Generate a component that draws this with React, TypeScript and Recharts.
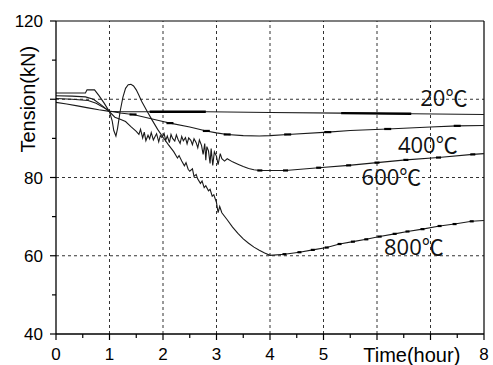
import React from 'react';
import { LineChart, Line, XAxis, YAxis, ReferenceLine, ReferenceDot } from 'recharts';

// Time (hour) and tension (kN) readings for each test temperature
const time20 = [0, 0.2, 0.4, 0.6, 0.8, 1.0, 1.2, 1.75, 2.8, 4.0, 5.33, 6.64, 8.0];
const tension20 = [99.2, 98.8, 98.3, 97.8, 97.3, 96.9, 96.8, 96.8, 96.8, 96.6, 96.45, 96.3, 96.1];
// stretches where the 20℃ record is densely sampled (drawn heavier)
const dense20 = [
  [1.75, 2.8],
  [5.33, 6.64],
];

const time400 = [0, 0.3, 0.6, 0.75, 0.9, 1.0, 1.2, 1.44, 2.0, 2.13, 2.5, 2.81, 3.0, 3.2, 3.5, 3.8, 4.0, 4.33, 5.08, 5.5, 6.2, 7.0, 7.5, 8.0];
const tension400 = [100.2, 100.0, 99.7, 99.0, 97.8, 97.0, 96.5, 96.1, 94.3, 93.9, 92.9, 91.9, 91.4, 91.0, 90.7, 90.6, 90.7, 91.0, 91.6, 92.0, 92.4, 92.9, 93.2, 93.3];
const steps400 = [1.44, 2.13, 2.81, 3.2, 4.33, 5.08, 6.2, 7.5];

const time600 = [
  0, 0.3, 0.55, 0.7, 0.85, 1.0, 1.1, 1.2, 1.3, 1.4, 1.5, 1.55, 1.58, 1.62, 1.65, 1.68, 1.72, 1.75, 1.78, 1.82,
  1.85, 1.88, 1.92, 1.95, 1.98, 2.02, 2.05, 2.08, 2.12, 2.15, 2.18, 2.22, 2.25, 2.28, 2.32, 2.35, 2.38, 2.42,
  2.45, 2.48, 2.52, 2.55, 2.58, 2.62, 2.65, 2.68, 2.72, 2.75, 2.78, 2.8, 2.82, 2.85, 2.88, 2.9, 2.93, 2.96,
  3.0, 3.03, 3.07, 3.1, 3.15, 3.2, 3.3, 3.4, 3.5, 3.6, 3.7, 3.81, 4.29, 4.91, 5.47, 6.0, 6.54, 7.15, 7.79, 8.0,
];
const tension600 = [
  100.9, 100.8, 100.6, 100.0, 98.5, 96.8, 95.4, 94.9, 94.3, 93.0, 91.8, 91.0, 92.3, 90.1, 91.6, 89.4, 90.8, 89.9, 91.5, 89.6,
  90.4, 91.2, 89.1, 90.7, 90.2, 91.3, 89.5, 90.6, 88.9, 91.0, 90.0, 89.3, 90.9, 89.8, 88.7, 90.5, 89.4, 90.2,
  88.6, 90.1, 89.5, 88.4, 89.9, 88.9, 87.6, 89.6, 88.2, 85.9, 88.7, 84.4, 87.9, 86.8, 83.6, 87.4, 83.1, 86.6,
  85.4, 83.3, 86.1, 84.8, 84.2, 84.8, 84.0, 83.4, 82.8, 82.3, 82.0, 81.8, 81.8, 82.5, 83.1, 83.8, 84.5, 85.1, 85.9, 86.1,
];
const steps600 = [3.81, 4.29, 4.91, 5.47, 6.0, 6.54, 7.15, 7.79];

const time800 = [
  0, 0.3, 0.55, 0.58, 0.72, 0.8, 0.9, 1.0, 1.05, 1.08, 1.12, 1.15, 1.2, 1.25, 1.3, 1.35, 1.4, 1.45, 1.5, 1.55,
  1.6, 1.7, 1.8, 1.9, 2.0, 2.1, 2.2, 2.27, 2.3, 2.35, 2.4, 2.43, 2.47, 2.5, 2.55, 2.58, 2.62, 2.65, 2.7, 2.73,
  2.77, 2.8, 2.85, 2.88, 2.92, 2.95, 3.0, 3.03, 3.06, 3.1, 3.2, 3.3, 3.4, 3.5, 3.6, 3.7, 3.8, 3.9, 4.0, 4.27,
  4.55, 4.8, 5.06, 5.3, 5.55, 5.8, 6.05, 6.33, 6.57, 6.85, 7.17, 7.45, 7.77, 8.0,
];
const tension800 = [
  101.6, 101.6, 101.6, 102.4, 102.4, 101.0, 99.0, 96.8, 94.5, 92.0, 90.6, 92.5, 97.0, 100.5, 102.8, 103.7, 103.8, 103.4, 102.4, 101.0,
  99.5, 97.0, 94.6, 92.3, 90.3, 88.4, 86.6, 85.0, 85.6, 84.2, 83.0, 83.8, 82.1, 81.6, 82.2, 80.3, 80.8, 79.6, 78.5, 79.1,
  77.4, 77.9, 76.6, 77.0, 75.2, 75.6, 73.6, 71.0, 72.6, 71.0, 69.2, 67.3, 65.7, 64.3, 63.2, 62.2, 61.4, 60.7, 60.1, 60.4,
  60.9, 61.5, 62.1, 63.0, 63.6, 64.2, 64.9, 65.6, 66.2, 66.8, 67.6, 68.1, 68.8, 69.0,
];
const steps800 = [4.27, 4.55, 4.8, 5.06, 5.3, 5.55, 5.8, 6.05, 6.33, 6.57, 6.85, 7.17, 7.45, 7.77];

const series = [
  { name: '20℃', time: time20, tension: tension20, steps: [] as number[], stepWidth: 0, labelAt: [7.25, 100.3] },
  { name: '400℃', time: time400, tension: tension400, steps: steps400, stepWidth: 7, labelAt: [6.95, 88.3] },
  { name: '600℃', time: time600, tension: tension600, steps: steps600, stepWidth: 5, labelAt: [6.27, 80.1] },
  { name: '800℃', time: time800, tension: tension800, steps: steps800, stepWidth: 4, labelAt: [6.69, 62.2] },
];

const xTicks = [0, 0.5, 1, 1.5, 2, 2.5, 3, 3.5, 4, 4.5, 5, 5.5, 6, 6.5, 7, 7.5, 8];
const xLabels = [0, 1, 2, 3, 4, 5, 8];
const yTicks = [40, 50, 60, 70, 80, 90, 100, 110, 120];
const yLabels = [40, 60, 80, 120];
const xGrid = [1, 2, 3, 4, 5, 6, 7];
const yGrid = [60, 80, 100];

const X_MAX = 8;
const Y_MIN = 40;
const Y_MAX = 120;

const AXIS_FONT = '"Liberation Sans", Arial, sans-serif';
const NOTE_FONT = '"Open Sans", "Noto Sans CJK SC", sans-serif';
const INK = '#1a1a1a';

const toRows = (time: number[], tension: number[], steps: number[]) =>
  time.map((t, i) => ({ t, v: tension[i], step: steps.includes(t) }));

const XTick = (props: any) => {
  const { x, y, payload } = props;
  const value = payload.value as number;
  const major = Number.isInteger(value);
  return (
    <g>
      <line x1={x} y1={y} x2={x} y2={y + (major ? 6 : 4)} stroke="#000" strokeWidth={1.2} />
      {xLabels.includes(value) && (
        <text x={x} y={y + 26} textAnchor="middle" fontSize={17} fontFamily={AXIS_FONT} fill="#000">
          {value}
        </text>
      )}
    </g>
  );
};

const YTick = (props: any) => {
  const { x, y, payload } = props;
  const value = payload.value as number;
  const major = value % 20 === 0;
  return (
    <g>
      <line x1={x} y1={y} x2={x - (major ? 6 : 4)} y2={y} stroke="#000" strokeWidth={1.2} />
      {yLabels.includes(value) && (
        <text x={x - 13} y={y + 6} textAnchor="end" fontSize={17} fontFamily={AXIS_FONT} fill="#000">
          {value}
        </text>
      )}
    </g>
  );
};

const YTitle = (props: any) => {
  const { viewBox } = props;
  const cx = viewBox.x + 28;
  const cy = viewBox.y + ((Y_MAX - 100) / (Y_MAX - Y_MIN)) * viewBox.height;
  return (
    <text
      x={cx}
      y={cy}
      transform={`rotate(-90 ${cx} ${cy})`}
      textAnchor="middle"
      dominantBaseline="central"
      fontSize={20}
      fontFamily={AXIS_FONT}
      fill="#000"
    >
      Tension(kN)
    </text>
  );
};

const XTitle = (props: any) => {
  const { viewBox } = props;
  const cx = viewBox.x + (6.65 / X_MAX) * viewBox.width;
  return (
    <text x={cx} y={viewBox.y + 28} textAnchor="middle" fontSize={20} fontFamily={AXIS_FONT} fill="#000">
      Time(hour)
    </text>
  );
};

// small dark block where the recorded tension steps up
const stepMark = (width: number) => (props: any) => {
  const { cx, cy, payload, index } = props;
  if (!payload || !payload.step || cx == null || cy == null) return <g key={`s${index}`} />;
  return <rect key={`s${index}`} x={cx - width / 2} y={cy - 1.1} width={width} height={2.2} fill="#000" />;
};

export default function App() {
  return (
    <div style={{ width: 493, height: 365, overflow: 'hidden' }}>
      <style>{'body { margin: 0; }'}</style>
      <LineChart width={493} height={365} margin={{ top: 21, right: 9, bottom: 0, left: 0 }}>
        <XAxis
          type="number"
          dataKey="t"
          domain={[0, X_MAX]}
          ticks={xTicks}
          interval={0}
          height={31}
          tickSize={0}
          tickMargin={0}
          tickLine={false}
          tick={<XTick />}
          axisLine={{ stroke: '#000', strokeWidth: 1.3 }}
          label={<XTitle />}
          allowDataOverflow
        />
        <YAxis
          type="number"
          dataKey="v"
          domain={[Y_MIN, Y_MAX]}
          ticks={yTicks}
          interval={0}
          width={56}
          tickSize={0}
          tickMargin={0}
          tickLine={false}
          tick={<YTick />}
          axisLine={{ stroke: '#000', strokeWidth: 1.3 }}
          label={<YTitle />}
          allowDataOverflow
        />
        {xGrid.map((g) => (
          <ReferenceLine key={`gx${g}`} x={g} stroke="#333" strokeWidth={1} strokeDasharray="3 3" />
        ))}
        {yGrid.map((g) => (
          <ReferenceLine key={`gy${g}`} y={g} stroke="#333" strokeWidth={1} strokeDasharray="3 3" />
        ))}
        <ReferenceLine y={Y_MAX} stroke="#000" strokeWidth={1.2} />
        <ReferenceLine x={X_MAX} stroke="#000" strokeWidth={1.2} />
        {series.map((s) => (
          <Line
            key={s.name}
            data={toRows(s.time, s.tension, s.steps)}
            dataKey="v"
            type="linear"
            stroke={INK}
            strokeWidth={1.1}
            dot={s.steps.length ? stepMark(s.stepWidth) : false}
            activeDot={false}
            isAnimationActive={false}
          />
        ))}
        {dense20.map(([from, to]) => (
          <Line
            key={`dense${from}`}
            data={toRows(time20, tension20, []).filter((r) => r.t >= from && r.t <= to)}
            dataKey="v"
            type="linear"
            stroke="#000"
            strokeWidth={2.3}
            dot={false}
            activeDot={false}
            isAnimationActive={false}
          />
        ))}
        {series.map((s) => (
          <ReferenceDot
            key={`lbl${s.name}`}
            x={s.labelAt[0]}
            y={s.labelAt[1]}
            r={0}
            fill="none"
            stroke="none"
            label={{
              value: s.name,
              position: 'center',
              fontSize: 22,
              fontFamily: NOTE_FONT,
              fill: '#111',
            }}
          />
        ))}
      </LineChart>
    </div>
  );
}
